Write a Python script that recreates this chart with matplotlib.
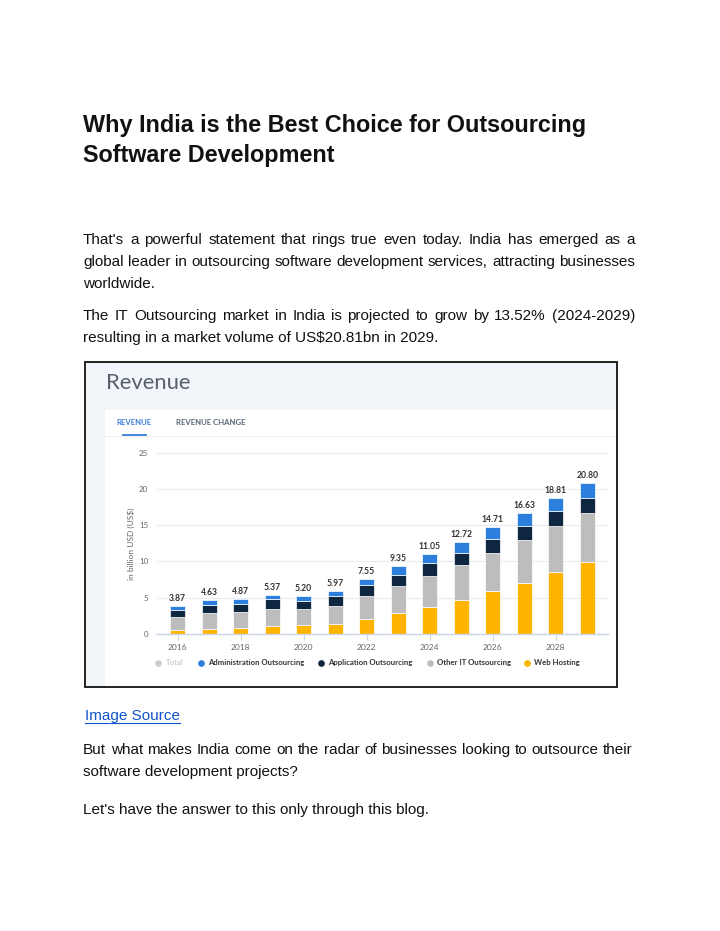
import matplotlib
matplotlib.use('Agg')
import matplotlib.pyplot as plt
from matplotlib.patches import Rectangle
from matplotlib.lines import Line2D

# data (billion US$)
years = [2016, 2017, 2018, 2019, 2020, 2021, 2022, 2023, 2024, 2025, 2026, 2027, 2028, 2029]
web_hosting = [0.50, 0.68, 0.87, 1.10, 1.19, 1.37, 2.10, 2.88, 3.70, 4.66, 5.89, 6.99, 8.49, 9.91]
other_it = [1.87, 2.20, 2.23, 2.37, 2.28, 2.51, 3.10, 3.74, 4.30, 4.84, 5.34, 5.93, 6.40, 6.76]
application = [0.93, 1.12, 1.10, 1.33, 1.13, 1.37, 1.56, 1.46, 1.73, 1.69, 1.83, 1.92, 2.05, 2.05]
administration = [0.57, 0.63, 0.67, 0.57, 0.60, 0.72, 0.79, 1.27, 1.32, 1.53, 1.65, 1.79, 1.87, 2.08]
totals = [3.87, 4.63, 4.87, 5.37, 5.20, 5.97, 7.55, 9.35, 11.05, 12.72, 14.71, 16.63, 18.81, 20.80]
legend_labels = ['Total', 'Administration Outsourcing', 'Application Outsourcing',
                 'Other IT Outsourcing', 'Web Hosting']

title_lines = ['Why India is the Best Choice for Outsourcing', 'Software Development']
para1 = ["That's a powerful statement that rings true even today. India has emerged as a",
         'global leader in outsourcing software development services, attracting businesses',
         'worldwide.']
para2 = ['The IT Outsourcing market in India is projected to grow by 13.52% (2024-2029)',
         'resulting in a market volume of US$20.81bn in 2029.']
para3 = ['But what makes India come on the radar of businesses looking to outsource their',
         'software development projects?']
para4 = ["Let's have the answer to this only through this blog."]

YELLOW = '#ffb400'
GREY = '#bdbdbd'
NAVY = '#0f2641'
BLUE = '#2d7fde'
TOTAL_GREY = '#cccccc'

W, H = 720, 931
fig = plt.figure(figsize=(W / 100, H / 100), dpi=100)
fig.patch.set_facecolor('white')


def fx(x):
    return x / W


def fy(y):
    return 1 - y / H


def rect(x0, y0, x1, y1, **kw):
    r = Rectangle((fx(x0), fy(y1)), (x1 - x0) / W, (y1 - y0) / H,
                  transform=fig.transFigure, **kw)
    fig.add_artist(r)
    return r


def hline(x0, x1, y, **kw):
    fig.add_artist(Line2D([fx(x0), fx(x1)], [fy(y), fy(y)], transform=fig.transFigure, **kw))


body = dict(family=['Liberation Sans', 'DejaVu Sans'], fontsize=11, color='#111111', va='baseline')


def justified(line, y, x0=83, x1=635, **kw):
    words = line.split()
    texts = [fig.text(0, fy(y), w, **kw) for w in words]
    r = fig.canvas.get_renderer()
    widths = [t.get_window_extent(r).width for t in texts]
    gap = (x1 - x0 - sum(widths)) / (len(words) - 1)
    x = x0
    for t, w in zip(texts, widths):
        t.set_x(fx(x))
        x += w + gap


# page text
for line, y in zip(title_lines, [132, 162]):
    fig.text(fx(83), fy(y), line, family=['Liberation Sans', 'DejaVu Sans'],
             fontsize=16.8, weight='bold', color='#111111', va='baseline')

justified(para1[0], 244, **body)
justified(para1[1], 266, **body)
fig.text(fx(83), fy(288), para1[2], **body)
justified(para2[0], 320, **body)
fig.text(fx(83), fy(342), para2[1], **body)

link = fig.text(fx(85), fy(720), 'Image Source', **{**body, 'color': '#1155cc'})
lw_px = link.get_window_extent(fig.canvas.get_renderer()).width
hline(85, 85 + lw_px, 722.5, color='#1155cc', lw=0.8)

justified(para3[0], 754, x1=633, **body)
fig.text(fx(83), fy(776), para3[1], **body)
fig.text(fx(83), fy(814), para4[0], **body)

# embedded chart screenshot: background, card, border
rect(85, 362, 617, 687, facecolor='#f2f5f9', edgecolor='none', zorder=-3)
rect(105, 410, 617, 687, facecolor='white', edgecolor='none', zorder=-2)
rect(85, 362, 617, 687, facecolor='none', edgecolor='#111111', lw=1.3, zorder=5)

cfont = ['Lato', 'Open Sans', 'DejaVu Sans']
fig.text(fx(105.5), fy(383), 'Revenue', family=cfont,
         fontsize=15.8, weight='normal', color='#56606c', va='center')
fig.text(fx(134), fy(422.5), 'REVENUE', family=cfont, fontsize=5.6, weight='bold',
         color='#3a7fd6', va='center', ha='center')
fig.text(fx(176), fy(422.5), 'REVENUE CHANGE', family=cfont, fontsize=5.6, weight='bold',
         color='#5b6678', va='center')
hline(105, 617, 435.5, color='#eef0f3', lw=0.8, zorder=-1)
hline(122.5, 146, 435, color='#3a7fd6', lw=1.3)

# bar chart
ax = fig.add_axes([fx(156.5), fy(634), (608 - 156.5) / W, (634 - 452.7) / H])
ax.set_facecolor('none')
bar_w = 0.47
edge = dict(edgecolor='white', linewidth=0.5, zorder=3)
b1 = web_hosting
b2 = [a + b for a, b in zip(b1, other_it)]
b3 = [a + b for a, b in zip(b2, application)]
ax.bar(years, web_hosting, bar_w, color=YELLOW, **edge)
ax.bar(years, other_it, bar_w, bottom=b1, color=GREY, **edge)
ax.bar(years, application, bar_w, bottom=b2, color=NAVY, **edge)
ax.bar(years, administration, bar_w, bottom=b3, color=BLUE, **edge)

for yr, t in zip(years, totals):
    ax.annotate(f'{t:.2f}', (yr, t), xytext=(0, 2.2), textcoords='offset points',
                ha='center', va='bottom', fontsize=6.2, weight='bold', color='#333333',
                family=cfont)

ax.set_xlim(2015.33, 2029.66)
ax.set_ylim(0, 25)
ax.set_yticks(range(0, 26, 5))
ax.set_xticks(range(2016, 2029, 2))
ax.grid(axis='y', color='#e8ebef', lw=0.8, zorder=0)
for s in ['top', 'right', 'left']:
    ax.spines[s].set_visible(False)
ax.spines['bottom'].set_color('#ccd6eb')
ax.spines['bottom'].set_linewidth(1.0)
ax.spines['bottom'].set_zorder(4)
ax.tick_params(axis='x', length=4, width=0.8, color='#ccd6eb', labelsize=6,
               labelcolor='#666666', pad=3)
ax.tick_params(axis='y', length=0, labelsize=5.8, labelcolor='#666666', pad=6)
for lab in ax.get_xticklabels() + ax.get_yticklabels():
    lab.set_family(cfont)
ax.set_ylabel('in billion USD (US$)', fontsize=6, color='#666666', family=cfont, labelpad=3)

# legend
legend_colors = [TOTAL_GREY, BLUE, NAVY, GREY, YELLOW]
legend_marker_x = [158, 201, 321, 430, 527]
for lab, col, mx in zip(legend_labels, legend_colors, legend_marker_x):
    fig.add_artist(Line2D([fx(mx)], [fy(662.7)], marker='o', markersize=4.8, color=col,
                          markeredgewidth=0, transform=fig.transFigure))
    fig.text(fx(mx + 7.5), fy(662.7), lab, family=cfont, fontsize=5.6, weight='bold',
             color=TOTAL_GREY if lab == 'Total' else '#333333', va='center')

fig.savefig('out.png', dpi=100, facecolor='white')
